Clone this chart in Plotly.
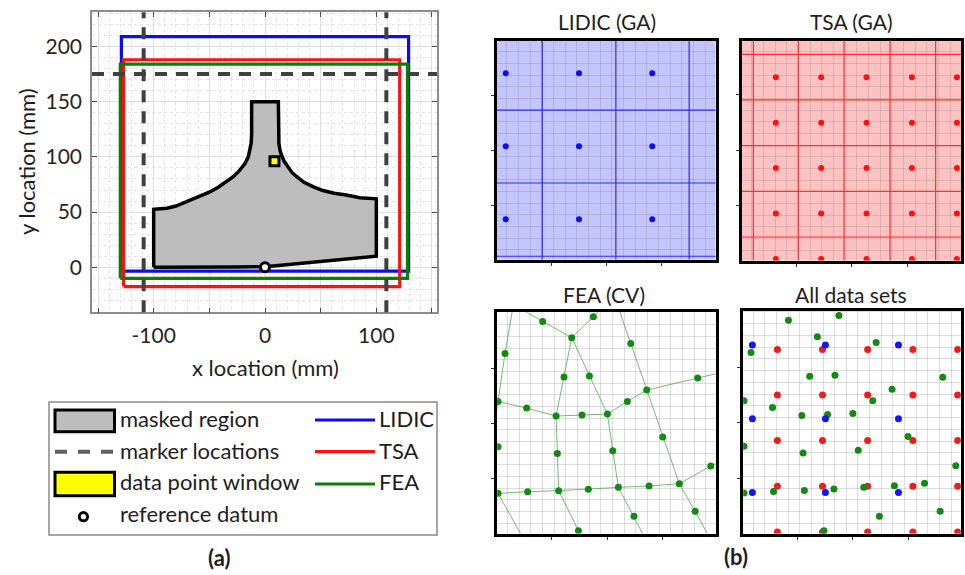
import plotly.graph_objects as go

W, H = 965, 575
FONT = "Lato"
TXT = "#1e1e1e"

# ---------------- panel (a): specimen layout (mm) ----------------
mask_x = [-100, -100, -94, -88, -80, -70, -60, -50, -42, -35, -28.5, -23, -18, -15, -13.5, -12.5, -12, -12,
          12, 12, 12.5, 13.5, 15, 17.5, 21, 24.5, 28.5, 35, 43, 52, 62, 73, 85, 95, 100,
          100, 75, 50, 25, 0, -25, -50, -100]
mask_y = [0, 52.5, 53, 53.5, 55.5, 59.5, 63.5, 68, 72.5, 77, 82, 87.5, 94, 100, 106, 112, 120, 150,
          150, 120, 112, 106, 101, 95.5, 90, 85.5, 82, 77, 73, 69.5, 67, 65.5, 63, 62.2, 62,
          10, 7.5, 5, 2.5, 0.5, 0.2, 0, 0]

# measurement windows: [x0, x1], [y0, y1]
lidic_x, lidic_y = [-129, 129], [-3.5, 209]
tsa_x, tsa_y = [-127, 121], [-17.5, 188]
fea_x, fea_y = [-130, 128], [-10, 184]

marker_x = [-109, 109]
marker_y = [175]

window_xy = (8.5, 96)
datum_xy = (0, 0)

x_ticks = [-150, -100, -50, 0, 50, 100, 150]
x_ticktext = ["", "-100", "", "0", "", "100", ""]
y_ticks = [0, 50, 100, 150, 200]

# ---------------- panel (b): data point window (local units) ----------------
lidic_u = [0.92, 7.20, 13.48]
lidic_v = [3.62, 9.90, 16.18]
lidic_line_u = [4.05, 10.36, 16.64]
lidic_line_v = [0.45, 6.74, 13.01]

tsa_u = [3.07, 6.95, 10.83, 14.72, 18.57]
tsa_v = [0.25, 4.15, 8.05, 11.93, 15.81]
tsa_line_u = [1.14, 4.99, 8.90, 12.84, 16.75]
tsa_line_v = [2.14, 6.05, 9.96, 13.87, 17.78]

fea_u = [0.80, 4.02, 8.36, 6.51, 11.56, 5.85, 8.02, 12.93, 17.29, 0.20, 2.65, 5.17, 7.39, 9.56, 11.27,
         0.20, 5.28, 10.02, 14.30, 18.41, 0.20, 2.74, 5.39, 7.93, 10.50, 13.13, 15.72, 7.08, 11.84, 17.07]
fea_v = [15.55, 18.29, 18.69, 16.90, 16.41, 13.53, 13.61, 12.41, 13.44, 11.44, 10.87, 10.19, 10.27, 10.36, 11.44,
         7.56, 6.99, 7.22, 8.39, 5.91, 3.57, 3.71, 3.80, 3.91, 4.08, 4.20, 4.40, 0.37, 1.60, 2.03]
# mesh corner nodes lying outside the window
mesh_out_u = [1.51, -0.12, 1.80, 8.93, 10.47, 18.35, 19.49, -0.77, -0.77, 19.78, 7.36, 12.79, 2.51]
mesh_out_v = [19.69, 9.28, 19.55, 19.26, 19.55, -0.29, 13.96, 11.70, 3.51, 6.56, -0.43, -0.29, -0.57]
mesh_edges = [
    [30, 0, 9, 31], [32, 1, 3], [3, 2, 33], [3, 5, 11], [3, 6, 13],
    [34, 4, 7, 18, 26, 29, 35], [7, 8, 36], [13, 14, 7], [37, 9, 10, 11, 12, 13],
    [11, 16, 22], [13, 17, 24], [38, 20, 21, 22, 23, 24, 25, 26], [26, 19, 39],
    [22, 27, 40], [24, 28, 41], [20, 42],
]
b_ticks = [4.8, 9.55, 14.3]

BLUE, RED, GREEN = "#0a0aff", "#ff1010", "#0b7d0b"


def px(x):
    return x / W


def py(y):
    return 1 - y / H


fig = go.Figure()

# ---- panel (a) traces ----
fig.add_trace(go.Scatter(x=mask_x, y=mask_y, mode="lines", fill="toself", fillcolor="#bdbdbd",
                         line=dict(color="black", width=3.5), xaxis="x", yaxis="y", hoverinfo="skip"))


def rect_trace(xr, yr, color):
    xs = [xr[0], xr[1], xr[1], xr[0], xr[0]]
    ys = [yr[0], yr[0], yr[1], yr[1], yr[0]]
    return go.Scatter(x=xs, y=ys, mode="lines", line=dict(color=color, width=3.2),
                      xaxis="x", yaxis="y", hoverinfo="skip")


fig.add_trace(rect_trace(lidic_x, lidic_y, BLUE))
fig.add_trace(rect_trace(tsa_x, tsa_y, RED))
fig.add_trace(rect_trace(fea_x, fea_y, GREEN))

fig.add_trace(go.Scatter(x=[window_xy[0]], y=[window_xy[1]], mode="markers",
                         marker=dict(symbol="square", size=9, color="#ffff00",
                                     line=dict(color="black", width=3)),
                         xaxis="x", yaxis="y", hoverinfo="skip"))
fig.add_trace(go.Scatter(x=[datum_xy[0]], y=[datum_xy[1]], mode="markers",
                         marker=dict(symbol="circle", size=9, color="white",
                                     line=dict(color="black", width=3)),
                         xaxis="x", yaxis="y", hoverinfo="skip"))

shapes = []
DASH_COL = "#404040"
for mx in marker_x:
    shapes.append(dict(type="line", xref="x", yref="y domain", x0=mx, x1=mx, y0=0, y1=1,
                       line=dict(color=DASH_COL, width=4, dash="12px,9px"), layer="above"))
for my in marker_y:
    shapes.append(dict(type="line", xref="x domain", yref="y", x0=0, x1=1, y0=my, y1=my,
                       line=dict(color=DASH_COL, width=4, dash="12px,9px"), layer="above"))

# ---- panel (b) traces ----
# LIDIC (GA)
lid_px = [u for v in lidic_v for u in lidic_u]
lid_py = [v for v in lidic_v for u in lidic_u]
fig.add_trace(go.Scatter(x=lid_px, y=lid_py, mode="markers", marker=dict(size=6, color=BLUE),
                         xaxis="x2", yaxis="y2", hoverinfo="skip"))
# TSA (GA)
tsa_px = [u for v in tsa_v for u in tsa_u]
tsa_py = [v for v in tsa_v for u in tsa_u]
fig.add_trace(go.Scatter(x=tsa_px, y=tsa_py, mode="markers", marker=dict(size=6, color=RED),
                         xaxis="x3", yaxis="y3", hoverinfo="skip"))
# FEA (CV) mesh + nodes
all_u = fea_u + mesh_out_u
all_v = fea_v + mesh_out_v
mx_, my_ = [], []
for edge in mesh_edges:
    mx_ += [all_u[i] for i in edge] + [None]
    my_ += [all_v[i] for i in edge] + [None]
fig.add_trace(go.Scatter(x=mx_, y=my_, mode="lines", line=dict(color="rgba(70,165,70,0.75)", width=1),
                         xaxis="x4", yaxis="y4", hoverinfo="skip"))
fig.add_trace(go.Scatter(x=fea_u, y=fea_v, mode="markers", marker=dict(size=7, color="#138a13"),
                         xaxis="x4", yaxis="y4", hoverinfo="skip"))
# All data sets
fig.add_trace(go.Scatter(x=tsa_px, y=tsa_py, mode="markers", marker=dict(size=7, color="#ee1c1c"),
                         xaxis="x5", yaxis="y5", hoverinfo="skip"))
fig.add_trace(go.Scatter(x=fea_u, y=fea_v, mode="markers", marker=dict(size=7, color="#138a13"),
                         xaxis="x5", yaxis="y5", hoverinfo="skip"))
fig.add_trace(go.Scatter(x=lid_px, y=lid_py, mode="markers", marker=dict(size=7, color="#1414ff"),
                         xaxis="x5", yaxis="y5", hoverinfo="skip"))

# coloured backgrounds and measurement grids
shapes.append(dict(type="rect", xref="x2 domain", yref="y2 domain", x0=0, x1=1, y0=0, y1=1,
                   fillcolor="#c4c4ff", line=dict(width=0), layer="below"))
shapes.append(dict(type="rect", xref="x3 domain", yref="y3 domain", x0=0, x1=1, y0=0, y1=1,
                   fillcolor="#ffc2c2", line=dict(width=0), layer="below"))
for u in lidic_line_u:
    shapes.append(dict(type="line", xref="x2", yref="y2 domain", x0=u, x1=u, y0=0, y1=1,
                       line=dict(color="#2a2aff", width=1.2), layer="above"))
for v in lidic_line_v:
    shapes.append(dict(type="line", xref="x2 domain", yref="y2", x0=0, x1=1, y0=v, y1=v,
                       line=dict(color="#2a2aff", width=1.2), layer="above"))
for u in tsa_line_u:
    shapes.append(dict(type="line", xref="x3", yref="y3 domain", x0=u, x1=u, y0=0, y1=1,
                       line=dict(color="#ff3030", width=1.2), layer="above"))
for v in tsa_line_v:
    shapes.append(dict(type="line", xref="x3 domain", yref="y3", x0=0, x1=1, y0=v, y1=v,
                       line=dict(color="#ff3030", width=1.2), layer="above"))


# ---- legend for panel (a) ----
def prect(x0, x1, y0, y1, **kw):
    return dict(type="rect", xref="paper", yref="paper", x0=px(x0), x1=px(x1), y0=py(y1), y1=py(y0), **kw)


def pline(x0, x1, y, **kw):
    return dict(type="line", xref="paper", yref="paper", x0=px(x0), x1=px(x1), y0=py(y), y1=py(y), **kw)


shapes += [
    prect(49, 437, 402, 535, line=dict(color="#8a8a8a", width=1.5), layer="above"),
    prect(55, 114.5, 410, 431.8, line=dict(color="black", width=3), fillcolor="#bdbdbd", layer="above"),
    pline(55, 113, 451.7, line=dict(color="#606060", width=4, dash="12px,11px"), layer="above"),
    prect(55, 114.5, 472.2, 495.8, line=dict(color="black", width=3), fillcolor="#ffff00", layer="above"),
    dict(type="circle", xref="paper", yref="paper", x0=px(79.3), x1=px(87.5), y0=py(520.8), y1=py(512.6),
         line=dict(color="black", width=3), fillcolor="white", layer="above"),
    pline(315, 375, 420, line=dict(color=BLUE, width=3.2), layer="above"),
    pline(315, 375, 451.7, line=dict(color=RED, width=3.2), layer="above"),
    pline(315, 375, 484, line=dict(color=GREEN, width=3.2), layer="above"),
]

annotations = []


def ptext(text, x, y, size=22, anchor="left", bold=False, angle=0):
    annotations.append(dict(text=("<b>%s</b>" % text) if bold else text, x=px(x), y=py(y),
                            xref="paper", yref="paper", xanchor=anchor, yanchor="middle",
                            showarrow=False, textangle=angle,
                            font=dict(family=FONT, size=size, color=TXT)))


ptext("masked region", 118, 418)
ptext("marker locations", 118, 450)
ptext("data point window", 118, 481)
ptext("reference datum", 118, 513)
ptext("LIDIC", 377, 418)
ptext("TSA", 377, 450)
ptext("FEA", 377, 481)

ptext("x location (mm)", 265, 367, size=22, anchor="center")
ptext("y location (mm)", 26, 162, size=22, anchor="center", angle=-90)
ptext("(a)", 219, 557, size=22, anchor="center", bold=True)
ptext("(b)", 736, 556, size=22, anchor="center", bold=True)

ptext("LIDIC (GA)", 606.5, 22, size=21, anchor="center")
ptext("TSA (GA)", 851.5, 22, size=21, anchor="center")
ptext("FEA (CV)", 604, 294, size=21, anchor="center")
ptext("All data sets", 851, 294, size=21, anchor="center")

# ---- axes ----
axis_a_common = dict(showgrid=True, gridcolor="#dedede", gridwidth=1, zeroline=False,
                     ticks="inside", ticklen=5, tickcolor="#4a4a4a", tickwidth=1,
                     showline=True, linecolor="#8c8c8c", linewidth=1.5, mirror="allticks",
                     tickfont=dict(family=FONT, size=21, color="#262626"), ticklabelstandoff=4)

minor_a = dict(tickmode="linear", tick0=0, dtick=10, showgrid=True, gridcolor="#e2e2e2",
               griddash="dot", gridwidth=1, ticks="")

layout_axes = dict(
    xaxis=dict(domain=[px(92), px(437)], range=[-155.4, 154.5], anchor="y",
               tickmode="array", tickvals=x_ticks, ticktext=x_ticktext, minor=minor_a,
               **axis_a_common),
    yaxis=dict(domain=[py(312.3), py(12.3)], range=[-40.8, 231], anchor="x",
               tickmode="array", tickvals=y_ticks, minor=minor_a,
               **axis_a_common),
)


def b_axis(domain, rng, anchor):
    return dict(domain=domain, range=rng, anchor=anchor, showgrid=False, zeroline=False,
                tickmode="array", tickvals=b_ticks, showticklabels=False,
                ticks="outside", ticklen=3, tickcolor="#333", tickwidth=1,
                showline=True, linecolor="black", linewidth=3, mirror=True,
                minor=dict(tickmode="linear", tick0=0, dtick=1, showgrid=True,
                           gridcolor="rgba(120,120,120,0.25)", gridwidth=1, ticks=""))


layout_axes.update(
    xaxis2=b_axis([px(497), px(715.5)], [0.17, 18.9], "y2"),
    yaxis2=b_axis([py(259.5), py(41)], [0.17, 18.94], "x2"),
    xaxis3=b_axis([px(742), px(961)], [0.17, 18.92], "y3"),
    yaxis3=b_axis([py(260.5), py(40.5)], [0.13, 18.96], "x3"),
    xaxis4=b_axis([px(497.2), px(715.8)], [0.13, 18.84], "y4"),
    yaxis4=b_axis([py(533.5), py(312.2)], [0.13, 19.08], "x4"),
    xaxis5=b_axis([px(743.2), px(960.8)], [0.13, 18.84], "y5"),
    yaxis5=b_axis([py(533.5), py(310.8)], [0.13, 19.1], "x5"),
)

fig.update_layout(
    width=W, height=H, margin=dict(l=0, r=0, t=0, b=0),
    paper_bgcolor="white", plot_bgcolor="white", showlegend=False,
    font=dict(family=FONT, color=TXT),
    shapes=shapes, annotations=annotations,
    **layout_axes,
)

fig.write_html("out.html")
